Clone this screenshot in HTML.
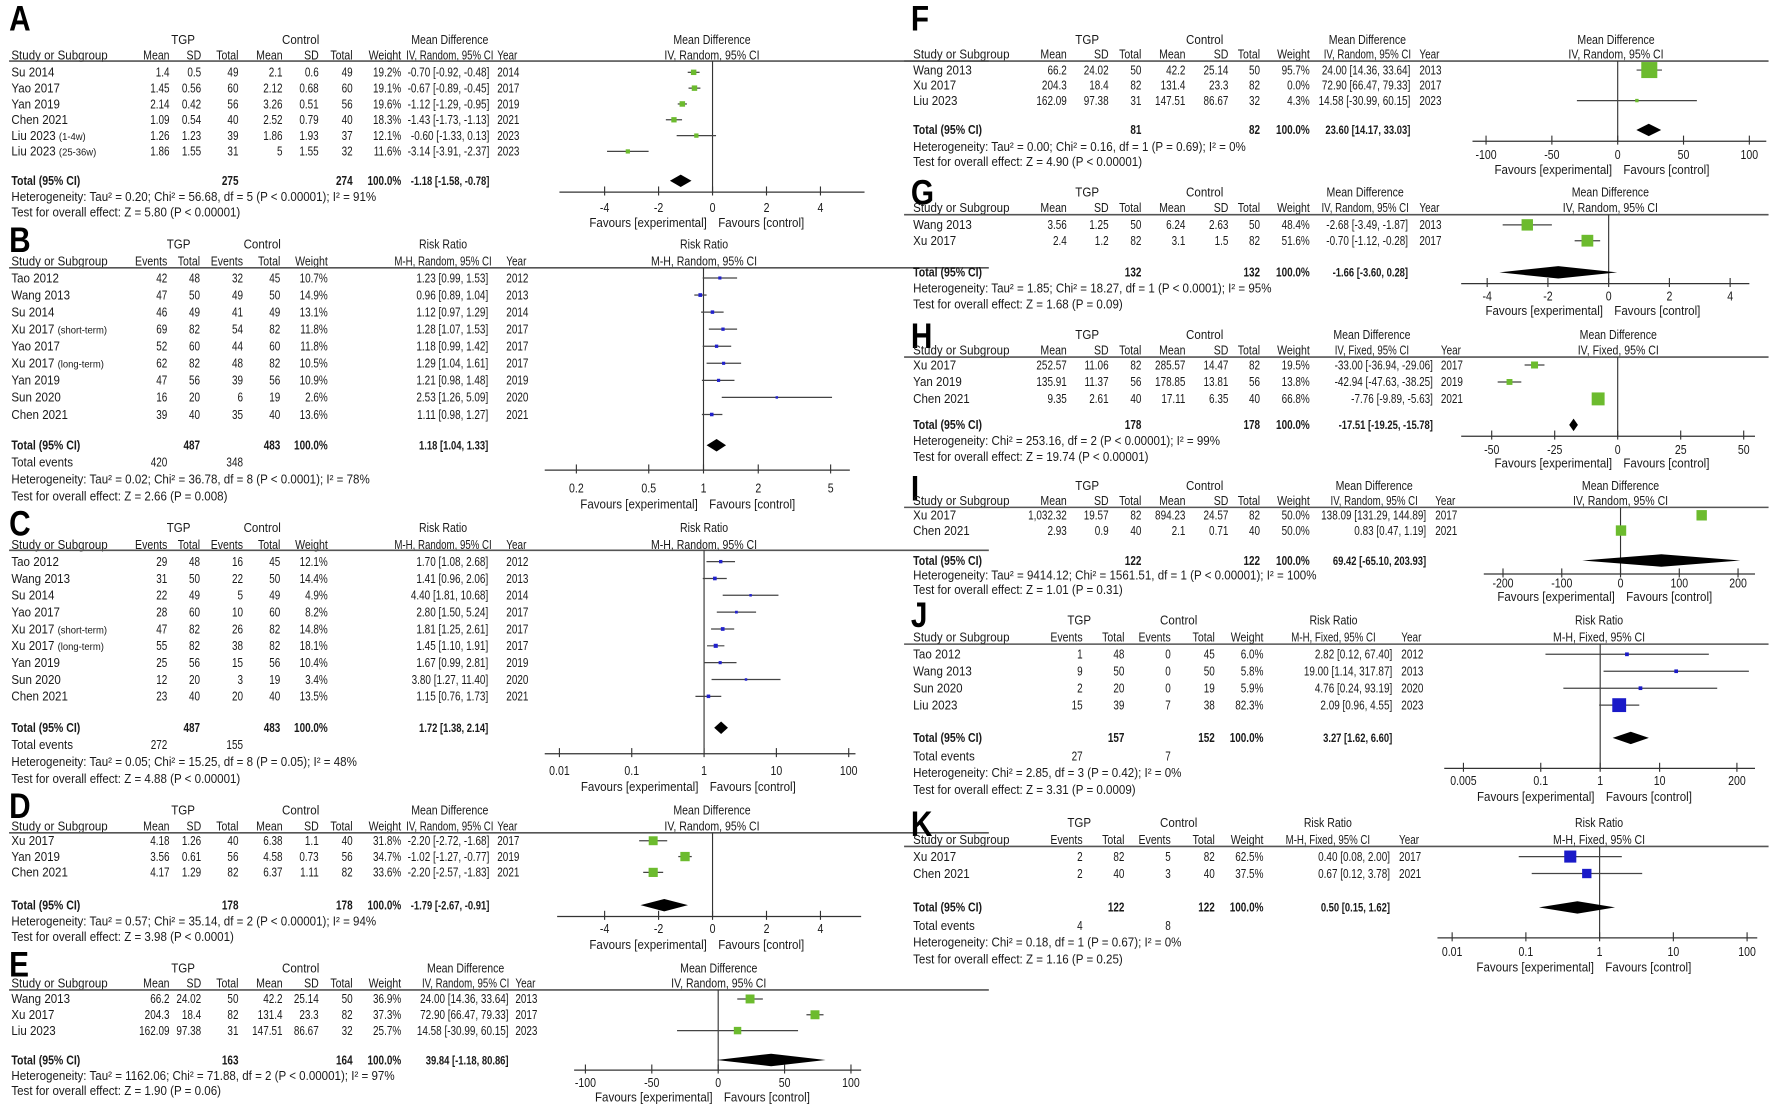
<!DOCTYPE html>
<html><head><meta charset="utf-8"><style>
html,body{margin:0;padding:0;background:#fff;}
svg{display:block;font-family:"Liberation Sans",Arial,sans-serif;}
</style></head><body>
<svg id="fig" width="1772" height="1108" viewBox="0 0 1568 980.5" xmlns="http://www.w3.org/2000/svg">
<rect x="0" y="0" width="1568" height="980.5" fill="#fff"/>
</svg>
<script>
// ---------- DATA ----------
const A_labels=['Su 2014','Yao 2017','Yan 2019','Chen 2021','Liu 2023 (1-4w)','Liu 2023 (25-36w)'];
const A_cells=[['1.4','0.5','49','2.1','0.6','49'],['1.45','0.56','60','2.12','0.68','60'],['2.14','0.42','56','3.26','0.51','56'],['1.09','0.54','40','2.52','0.79','40'],['1.26','1.23','39','1.86','1.93','37'],['1.86','1.55','31','5','1.55','32']];
const A_est=[-0.70,-0.67,-1.12,-1.43,-0.60,-3.14];
const A_lo=[-0.92,-0.89,-1.29,-1.73,-1.33,-3.91];
const A_hi=[-0.48,-0.45,-0.95,-1.13,0.13,-2.37];
const A_wt=[19.2,19.1,19.6,18.3,12.1,11.6];
const A_years=['2014','2017','2019','2021','2023','2023'];
const A_total=[-1.18,-1.58,-0.78];
const A_totN=['275','274'];
const A_notes=['Heterogeneity: Tau² = 0.20; Chi² = 56.68, df = 5 (P < 0.00001); I² = 91%','Test for overall effect: Z = 5.80 (P < 0.00001)'];
const A_ticks=[-4,-2,0,2,4];
const A_tickLabels=['-4','-2','0','2','4'];

const B_labels=['Tao 2012','Wang 2013','Su 2014','Xu 2017 (short-term)','Yao 2017','Xu 2017 (long-term)','Yan 2019','Sun 2020','Chen 2021'];
const B_cells=[['42','48','32','45'],['47','50','49','50'],['46','49','41','49'],['69','82','54','82'],['52','60','44','60'],['62','82','48','82'],['47','56','39','56'],['16','20','6','19'],['39','40','35','40']];
const B_est=[1.23,0.96,1.12,1.28,1.18,1.29,1.21,2.53,1.11];
const B_lo=[0.99,0.89,0.97,1.07,0.99,1.04,0.98,1.26,0.98];
const B_hi=[1.53,1.04,1.29,1.53,1.42,1.61,1.48,5.09,1.27];
const B_wt=[10.7,14.9,13.1,11.8,11.8,10.5,10.9,2.6,13.6];
const B_years=['2012','2013','2014','2017','2017','2017','2019','2020','2021'];
const B_total=[1.18,1.04,1.33];
const B_totN=['487','483'];
const B_events=['420','348'];
const B_notes=['Heterogeneity: Tau² = 0.02; Chi² = 36.78, df = 8 (P < 0.0001); I² = 78%','Test for overall effect: Z = 2.66 (P = 0.008)'];
const B_ticks=[0.2,0.5,1,2,5];
const B_tickLabels=['0.2','0.5','1','2','5'];

const C_labels=['Tao 2012','Wang 2013','Su 2014','Yao 2017','Xu 2017 (short-term)','Xu 2017 (long-term)','Yan 2019','Sun 2020','Chen 2021'];
const C_cells=[['29','48','16','45'],['31','50','22','50'],['22','49','5','49'],['28','60','10','60'],['47','82','26','82'],['55','82','38','82'],['25','56','15','56'],['12','20','3','19'],['23','40','20','40']];
const C_est=[1.70,1.41,4.40,2.80,1.81,1.45,1.67,3.80,1.15];
const C_lo=[1.08,0.96,1.81,1.50,1.25,1.10,0.99,1.27,0.76];
const C_hi=[2.68,2.06,10.68,5.24,2.61,1.91,2.81,11.40,1.73];
const C_wt=[12.1,14.4,4.9,8.2,14.8,18.1,10.4,3.4,13.5];
const C_years=['2012','2013','2014','2017','2017','2017','2019','2020','2021'];
const C_total=[1.72,1.38,2.14];
const C_totN=['487','483'];
const C_events=['272','155'];
const C_notes=['Heterogeneity: Tau² = 0.05; Chi² = 15.25, df = 8 (P = 0.05); I² = 48%','Test for overall effect: Z = 4.88 (P < 0.00001)'];
const C_ticks=[0.01,0.1,1,10,100];
const C_tickLabels=['0.01','0.1','1','10','100'];

const D_labels=['Xu 2017','Yan 2019','Chen 2021'];
const D_cells=[['4.18','1.26','40','6.38','1.1','40'],['3.56','0.61','56','4.58','0.73','56'],['4.17','1.29','82','6.37','1.11','82']];
const D_est=[-2.20,-1.02,-2.20];
const D_lo=[-2.72,-1.27,-2.57];
const D_hi=[-1.68,-0.77,-1.83];
const D_wt=[31.8,34.7,33.6];
const D_years=['2017','2019','2021'];
const D_total=[-1.79,-2.67,-0.91];
const D_totN=['178','178'];
const D_notes=['Heterogeneity: Tau² = 0.57; Chi² = 35.14, df = 2 (P < 0.00001); I² = 94%','Test for overall effect: Z = 3.98 (P < 0.0001)'];
const D_ticks=[-4,-2,0,2,4];
const D_tickLabels=['-4','-2','0','2','4'];

const E_labels=['Wang 2013','Xu 2017','Liu 2023'];
const E_cells=[['66.2','24.02','50','42.2','25.14','50'],['204.3','18.4','82','131.4','23.3','82'],['162.09','97.38','31','147.51','86.67','32']];
const E_est=[24.00,72.90,14.58];
const E_lo=[14.36,66.47,-30.99];
const E_hi=[33.64,79.33,60.15];
const E_wt=[36.9,37.3,25.7];
const E_years=['2013','2017','2023'];
const E_total=[39.84,-1.18,80.86];
const E_totN=['163','164'];
const E_notes=['Heterogeneity: Tau² = 1162.06; Chi² = 71.88, df = 2 (P < 0.00001); I² = 97%','Test for overall effect: Z = 1.90 (P = 0.06)'];
const E_ticks=[-100,-50,0,50,100];
const E_tickLabels=['-100','-50','0','50','100'];

const F_labels=['Wang 2013','Xu 2017','Liu 2023'];
const F_cells=[['66.2','24.02','50','42.2','25.14','50'],['204.3','18.4','82','131.4','23.3','82'],['162.09','97.38','31','147.51','86.67','32']];
const F_est=[24.00,72.90,14.58];
const F_lo=[14.36,66.47,-30.99];
const F_hi=[33.64,79.33,60.15];
const F_wt=[95.7,0.0,4.3];
const F_years=['2013','2017','2023'];
const F_total=[23.60,14.17,33.03];
const F_totN=['81','82'];
const F_notes=['Heterogeneity: Tau² = 0.00; Chi² = 0.16, df = 1 (P = 0.69); I² = 0%','Test for overall effect: Z = 4.90 (P < 0.00001)'];
const F_ticks=[-100,-50,0,50,100];
const F_tickLabels=['-100','-50','0','50','100'];

const G_labels=['Wang 2013','Xu 2017'];
const G_cells=[['3.56','1.25','50','6.24','2.63','50'],['2.4','1.2','82','3.1','1.5','82']];
const G_est=[-2.68,-0.70];
const G_lo=[-3.49,-1.12];
const G_hi=[-1.87,-0.28];
const G_wt=[48.4,51.6];
const G_years=['2013','2017'];
const G_total=[-1.66,-3.60,0.28];
const G_totN=['132','132'];
const G_notes=['Heterogeneity: Tau² = 1.85; Chi² = 18.27, df = 1 (P < 0.0001); I² = 95%','Test for overall effect: Z = 1.68 (P = 0.09)'];
const G_ticks=[-4,-2,0,2,4];
const G_tickLabels=['-4','-2','0','2','4'];

const H_labels=['Xu 2017','Yan 2019','Chen 2021'];
const H_cells=[['252.57','11.06','82','285.57','14.47','82'],['135.91','11.37','56','178.85','13.81','56'],['9.35','2.61','40','17.11','6.35','40']];
const H_est=[-33.00,-42.94,-7.76];
const H_lo=[-36.94,-47.63,-9.89];
const H_hi=[-29.06,-38.25,-5.63];
const H_wt=[19.5,13.8,66.8];
const H_years=['2017','2019','2021'];
const H_total=[-17.51,-19.25,-15.78];
const H_totN=['178','178'];
const H_notes=['Heterogeneity: Chi² = 253.16, df = 2 (P < 0.00001); I² = 99%','Test for overall effect: Z = 19.74 (P < 0.00001)'];
const H_ticks=[-50,-25,0,25,50];
const H_tickLabels=['-50','-25','0','25','50'];

const I_labels=['Xu 2017','Chen 2021'];
const I_cells=[['1,032.32','19.57','82','894.23','24.57','82'],['2.93','0.9','40','2.1','0.71','40']];
const I_est=[138.09,0.83];
const I_lo=[131.29,0.47];
const I_hi=[144.89,1.19];
const I_wt=[50.0,50.0];
const I_years=['2017','2021'];
const I_total=[69.42,-65.10,203.93];
const I_totN=['122','122'];
const I_notes=['Heterogeneity: Tau² = 9414.12; Chi² = 1561.51, df = 1 (P < 0.00001); I² = 100%','Test for overall effect: Z = 1.01 (P = 0.31)'];
const I_ticks=[-200,-100,0,100,200];
const I_tickLabels=['-200','-100','0','100','200'];

const J_labels=['Tao 2012','Wang 2013','Sun 2020','Liu 2023'];
const J_cells=[['1','48','0','45'],['9','50','0','50'],['2','20','0','19'],['15','39','7','38']];
const J_est=[2.82,19.00,4.76,2.09];
const J_lo=[0.12,1.14,0.24,0.96];
const J_hi=[67.40,317.87,93.19,4.55];
const J_wt=[6.0,5.8,5.9,82.3];
const J_years=['2012','2013','2020','2023'];
const J_total=[3.27,1.62,6.60];
const J_totN=['157','152'];
const J_events=['27','7'];
const J_notes=['Heterogeneity: Chi² = 2.85, df = 3 (P = 0.42); I² = 0%','Test for overall effect: Z = 3.31 (P = 0.0009)'];
const J_ticks=[0.005,0.1,1,10,200];
const J_tickLabels=['0.005','0.1','1','10','200'];

const K_labels=['Xu 2017','Chen 2021'];
const K_cells=[['2','82','5','82'],['2','40','3','40']];
const K_est=[0.40,0.67];
const K_lo=[0.08,0.12];
const K_hi=[2.00,3.78];
const K_wt=[62.5,37.5];
const K_years=['2017','2021'];
const K_total=[0.50,0.15,1.62];
const K_totN=['122','122'];
const K_events=['4','8'];
const K_notes=['Heterogeneity: Chi² = 0.18, df = 1 (P = 0.67); I² = 0%','Test for overall effect: Z = 1.16 (P = 0.25)'];
const K_ticks=[0.01,0.1,1,10,100];
const K_tickLabels=['0.01','0.1','1','10','100'];

// ---------- RENDERING ----------
const NS='http://www.w3.org/2000/svg';
const svg=document.getElementById('fig');
function mk(tag,attrs,name){
  const el=document.createElementNS(NS,tag);
  for(const k in attrs) el.setAttribute(k,attrs[k]);
  
  
  svg.appendChild(el);
  return el;
}
function txt(s,x,y,anchor,name,o){
  o=o||{};
  const t=mk('text',{transform:'translate('+x+','+(y+3.8)+') scale('+(o.sx||0.93)+',1)','text-anchor':anchor||'start','font-size':o.fs||11,'font-weight':o.bold?'bold':'normal',fill:o.fill||'#1a1a1a'},name);
  const m=s.match(/^(.*?) (\(.*\))$/);
  if(o.small&&m){
    t.textContent=m[1]+' ';
    const ts=document.createElementNS(NS,'tspan');
    ts.setAttribute('font-size','9');
    ts.textContent=m[2];
    t.appendChild(ts);
  } else t.textContent=s;
  return t;
}
const NSX=0.8;
function line(x1,y1,x2,y2,name,w,c){return mk('line',{x1:x1,y1:y1,x2:x2,y2:y2,stroke:c||'#333','stroke-width':w||1},name);}
function f2(v){return v.toFixed(2);}
function ciText(e,l,h){return f2(e)+' ['+f2(l)+', '+f2(h)+']';}

const LC={rights:[150,178,211,250,282,312,355],tgp:162,ctrl:266,x0:10,lx0:8,lx1:875};
const LD={rights:[148,177,215,248,290],tgp:158,ctrl:232,x0:10,lx0:8,lx1:875};
const RC={rights:[944,981,1010,1049,1087,1115,1159],tgp:962,ctrl:1066,x0:808,lx0:800,lx1:1565};
const RD={rights:[958,995,1036,1075,1118],tgp:955,ctrl:1043,x0:808,lx0:800,lx1:1565};

const panels=[
 {id:'A',L:LC,type:'cont',lx:8,ly:27,h1:35,h2:49,ln:54,r0:64,rs:14,tot:160,ex:[174,188],
  ciC:398,ciR:433,yr:440,h1t:'Mean Difference',h2t:'IV, Random, 95% CI',col:'#6cbb2e',k:1.1,
  ax:{y:170,x0:495,x1:765,log:false,v0:-4,p0:535,v1:4,p1:726,ty:184,fy:197},center:630},
 {id:'B',L:LD,type:'dich',lx:8,ly:223,h1:216,h2:231,ln:237,r0:246,rs:15.1,tot:394,ex:[409,424,439],
  ciC:392,ciR:432,yr:448,h1t:'Risk Ratio',h2t:'M-H, Random, 95% CI',col:'#2222cc',k:0.85,
  ax:{y:416,x0:482,x1:752,log:true,v0:0.2,p0:510,v1:5,p1:735,ty:432,fy:446},center:623},
 {id:'C',L:LD,type:'dich',lx:8,ly:474,h1:467,h2:482,ln:487,r0:497,rs:14.9,tot:644,ex:[659,674,689],
  ciC:392,ciR:432,yr:448,h1t:'Risk Ratio',h2t:'M-H, Random, 95% CI',col:'#2222cc',k:0.85,
  ax:{y:667,x0:482,x1:757,log:true,v0:0.01,p0:495,v1:100,p1:751,ty:682,fy:696},center:623},
 {id:'D',L:LC,type:'cont',lx:8,ly:724,h1:717,h2:731,ln:737,r0:744,rs:14,tot:801,ex:[815,829],
  ciC:398,ciR:433,yr:440,h1t:'Mean Difference',h2t:'IV, Random, 95% CI',col:'#6cbb2e',k:1.4,
  ax:{y:811,x0:493,x1:762,log:false,v0:-4,p0:535,v1:4,p1:726,ty:822,fy:836},center:630},
 {id:'E',L:LC,type:'cont',lx:8,ly:864,h1:857,h2:870,ln:876,r0:884,rs:14,tot:938,ex:[952,965],
  ciC:412,ciR:450,yr:456,h1t:'Mean Difference',h2t:'IV, Random, 95% CI',col:'#6cbb2e',k:1.3,
  ax:{y:947,x0:508,x1:762,log:false,v0:-100,p0:518,v1:100,p1:753,ty:958,fy:971},center:636},
 {id:'F',L:RC,type:'cont',lx:806,ly:27,h1:35,h2:48,ln:54,r0:62,rs:13.5,tot:115,ex:[130,143],
  ciC:1210,ciR:1248,yr:1256,h1t:'Mean Difference',h2t:'IV, Random, 95% CI',col:'#6cbb2e',k:1.45,
  ax:{y:125,x0:1303,x1:1563,log:false,v0:-100,p0:1315,v1:100,p1:1548,ty:137,fy:150},center:1430},
 {id:'G',L:RC,type:'cont',lx:806,ly:181,h1:170,h2:184,ln:190,r0:199,rs:14,tot:241,ex:[255,269],
  ciC:1208,ciR:1246,yr:1256,h1t:'Mean Difference',h2t:'IV, Random, 95% CI',col:'#6cbb2e',k:1.45,
  ax:{y:251,x0:1293,x1:1548,log:false,v0:-4,p0:1316,v1:4,p1:1531,ty:262,fy:275},center:1425},
 {id:'H',L:RC,type:'cont',lx:806,ly:308,h1:296,h2:310,ln:316,r0:323,rs:15,tot:376,ex:[390,404],
  ciC:1214,ciR:1268,yr:1275,h1t:'Mean Difference',h2t:'IV, Fixed, 95% CI',col:'#6cbb2e',k:1.4,
  ax:{y:386,x0:1293,x1:1553,log:false,v0:-50,p0:1320,v1:50,p1:1543,ty:398,fy:410},center:1432},
 {id:'I',L:RC,type:'cont',lx:806,ly:443,h1:430,h2:443,ln:449,r0:456,rs:13.5,tot:496,ex:[509,522],
  ciC:1216,ciR:1262,yr:1270,h1t:'Mean Difference',h2t:'IV, Random, 95% CI',col:'#6cbb2e',k:1.3,
  ax:{y:508,x0:1313,x1:1553,log:false,v0:-200,p0:1330,v1:200,p1:1538,ty:516,fy:528},center:1434},
 {id:'J',L:RD,type:'dich',lx:806,ly:555,h1:549,h2:564,ln:570,r0:579,rs:15,tot:653,ex:[669,684,699],
  ciC:1180,ciR:1232,yr:1240,h1t:'Risk Ratio',h2t:'M-H, Fixed, 95% CI',col:'#1a1ac8',k:1.35,
  ax:{y:680,x0:1278,x1:1553,log:true,v0:0.005,p0:1295,v1:200,p1:1537,ty:691,fy:705},center:1415},
 {id:'K',L:RD,type:'dich',lx:806,ly:740,h1:728,h2:743,ln:749,r0:758,rs:15,tot:803,ex:[819,834,849],
  ciC:1175,ciR:1230,yr:1238,h1t:'Risk Ratio',h2t:'M-H, Fixed, 95% CI',col:'#1a1ac8',k:1.35,
  ax:{y:830,x0:1272,x1:1555,log:true,v0:0.01,p0:1285,v1:100,p1:1546,ty:842,fy:856},center:1415}
];
const DATA={A:[A_labels,A_cells,A_est,A_lo,A_hi,A_wt,A_years,A_total,A_totN,A_notes,A_ticks,A_tickLabels,null],
 B:[B_labels,B_cells,B_est,B_lo,B_hi,B_wt,B_years,B_total,B_totN,B_notes,B_ticks,B_tickLabels,B_events],
 C:[C_labels,C_cells,C_est,C_lo,C_hi,C_wt,C_years,C_total,C_totN,C_notes,C_ticks,C_tickLabels,C_events],
 D:[D_labels,D_cells,D_est,D_lo,D_hi,D_wt,D_years,D_total,D_totN,D_notes,D_ticks,D_tickLabels,null],
 E:[E_labels,E_cells,E_est,E_lo,E_hi,E_wt,E_years,E_total,E_totN,E_notes,E_ticks,E_tickLabels,null],
 F:[F_labels,F_cells,F_est,F_lo,F_hi,F_wt,F_years,F_total,F_totN,F_notes,F_ticks,F_tickLabels,null],
 G:[G_labels,G_cells,G_est,G_lo,G_hi,G_wt,G_years,G_total,G_totN,G_notes,G_ticks,G_tickLabels,null],
 H:[H_labels,H_cells,H_est,H_lo,H_hi,H_wt,H_years,H_total,H_totN,H_notes,H_ticks,H_tickLabels,null],
 I:[I_labels,I_cells,I_est,I_lo,I_hi,I_wt,I_years,I_total,I_totN,I_notes,I_ticks,I_tickLabels,null],
 J:[J_labels,J_cells,J_est,J_lo,J_hi,J_wt,J_years,J_total,J_totN,J_notes,J_ticks,J_tickLabels,J_events],
 K:[K_labels,K_cells,K_est,K_lo,K_hi,K_wt,K_years,K_total,K_totN,K_notes,K_ticks,K_tickLabels,K_events]};

panels.forEach(function(P){
  const d=DATA[P.id];
  const labels=d[0],cells=d[1],est=d[2],lo=d[3],hi=d[4],wt=d[5],years=d[6],total=d[7],totN=d[8],notes=d[9],ticks=d[10],tickLabels=d[11],events=d[12];
  const L=P.L,R=L.rights,a=P.ax,id=P.id.toLowerCase();
  const tf=a.log?Math.log:function(v){return v;};
  function px(v){return a.p0+(tf(v)-tf(a.v0))*(a.p1-a.p0)/(tf(a.v1)-tf(a.v0));}
  function cl(x){return Math.max(a.x0,Math.min(a.x1,x));}
  txt(P.id,P.lx,P.ly-3.8,'start','panel-'+id+'-letter',{fs:31,bold:true,sx:0.85,fill:'#000'});
  txt('TGP',L.tgp,P.h1,'middle','panel-'+id+'-tgp-header');
  txt('Control',L.ctrl,P.h1,'middle','panel-'+id+'-control-header');
  txt(P.h1t,P.ciC,P.h1,'middle','panel-'+id+'-effect-header',{sx:0.85});
  txt(P.h1t,P.center,P.h1,'middle','panel-'+id+'-plot-header',{sx:0.85});
  txt('Study or Subgroup',L.x0,P.h2,'start','panel-'+id+'-study-header');
  const h2=P.type==='cont'?['Mean','SD','Total','Mean','SD','Total','Weight']:['Events','Total','Events','Total','Weight'];
  h2.forEach(function(h,i){txt(h,R[i],P.h2,'end','panel-'+id+'-col-header',{sx:0.85});});
  txt(P.h2t,P.ciC,P.h2,'middle','panel-'+id+'-ci-header',{sx:0.78});
  txt('Year',P.yr,P.h2,'start','panel-'+id+'-year-header',{sx:NSX});
  txt(P.h2t,P.center,P.h2,'middle','panel-'+id+'-plot-subheader',{sx:0.85});
  line(L.lx0,P.ln,L.lx1,P.ln,'panel-'+id+'-header-rule',1.4,'#555');
  const z=px(a.log?1:0);
  line(z,P.ln,z,a.y,'panel-'+id+'-null-line',1,'#333');
  labels.forEach(function(lab,i){
    const y=P.r0+i*P.rs;
    txt(lab,L.x0,y,'start','panel-'+id+'-study-label',{small:true});
    cells[i].forEach(function(c,j){txt(c,R[j],y,'end','panel-'+id+'-cell',{sx:NSX});});
    txt(wt[i].toFixed(1)+'%',R[R.length-1],y,'end','panel-'+id+'-weight',{sx:NSX});
    txt(ciText(est[i],lo[i],hi[i]),P.ciR,y,'end','panel-'+id+'-ci-text',{sx:NSX});
    txt(years[i],P.yr,y,'start','panel-'+id+'-year',{sx:NSX});
    if(wt[i]>0){
      line(cl(px(lo[i])),y,cl(px(hi[i])),y,'panel-'+id+'-ci-line',1.1,'#444');
      const s=Math.max(2.2,P.k*Math.sqrt(wt[i]));
      mk('rect',{x:px(est[i])-s/2,y:y-s/2,width:s,height:s,fill:P.col},'panel-'+id+'-study-square');
    }
  });
  txt('Total (95% CI)',L.x0,P.tot,'start','panel-'+id+'-total-label',{bold:true,sx:0.85});
  const ti=P.type==='cont'?[2,5]:[1,3];
  txt(totN[0],R[ti[0]],P.tot,'end','panel-'+id+'-total-n',{bold:true,sx:NSX});
  txt(totN[1],R[ti[1]],P.tot,'end','panel-'+id+'-total-n',{bold:true,sx:NSX});
  txt('100.0%',R[R.length-1],P.tot,'end','panel-'+id+'-total-weight',{bold:true,sx:NSX});
  txt(ciText(total[0],total[1],total[2]),P.ciR,P.tot,'end','panel-'+id+'-total-ci',{bold:true,sx:0.76});
  const dl=cl(px(total[1])),dh=cl(px(total[2])),de=px(total[0]);
  mk('polygon',{points:dl+','+P.tot+' '+de+','+(P.tot-5.5)+' '+dh+','+P.tot+' '+de+','+(P.tot+5.5),fill:'#000'},'panel-'+id+'-pooled-diamond');
  let k=0;
  if(events){
    txt('Total events',L.x0,P.ex[0],'start','panel-'+id+'-events-label');
    txt(events[0],R[0],P.ex[0],'end','panel-'+id+'-events',{sx:NSX});
    txt(events[1],R[2],P.ex[0],'end','panel-'+id+'-events',{sx:NSX});
    k=1;
  }
  txt(notes[0],L.x0,P.ex[k],'start','panel-'+id+'-heterogeneity');
  txt(notes[1],L.x0,P.ex[k+1],'start','panel-'+id+'-overall-effect');
  line(a.x0,a.y,a.x1,a.y,'panel-'+id+'-x-axis',1.1,'#333');
  ticks.forEach(function(t,i){
    const x=px(t);
    line(x,a.y-5,x,a.y+3,'panel-'+id+'-tick',1,'#333');
    txt(tickLabels[i],x,a.ty,'middle','panel-'+id+'-tick-label',{sx:0.85});
  });
  txt('Favours [experimental]',z-5,a.fy,'end','panel-'+id+'-favours-experimental');
  txt('Favours [control]',z+5,a.fy,'start','panel-'+id+'-favours-control');
});
</script>
</body></html>
